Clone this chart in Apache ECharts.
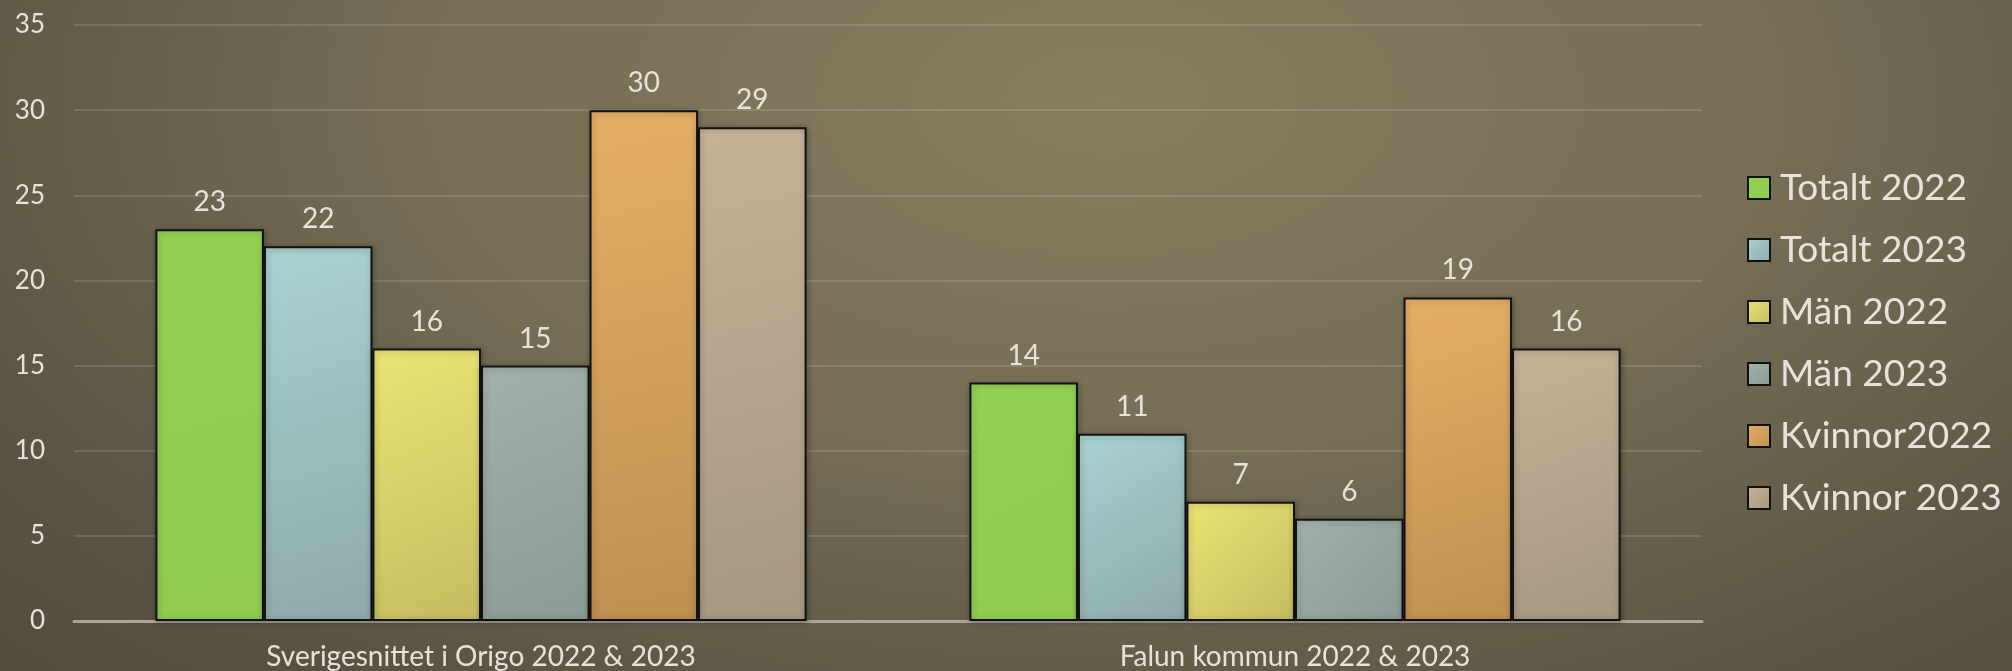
<!DOCTYPE html>
<html>
<head>
<meta charset="utf-8">
<script src="https://cdn.jsdelivr.net/npm/echarts@6/dist/echarts.min.js"></script>
<style>
  html, body { margin: 0; padding: 0; }
  body {
    width: 2012px; height: 671px; overflow: hidden;
    background: radial-gradient(ellipse 75% 120% at 55% 15%, #877e60 0%, #756d54 45%, #5a5343 85%, #544d3e 100%);
  }
  #chart { width: 2012px; height: 671px; }
</style>
</head>
<body>
<div id="chart"></div>
<script>
// kategorier och värden
const categories = ['Sverigesnittet i Origo 2022 & 2023', 'Falun kommun 2022 & 2023'];
const seriesNames = ['Totalt 2022', 'Totalt 2023', 'Män 2022', 'Män 2023', 'Kvinnor2022', 'Kvinnor 2023'];
const totalt2022 = [23, 14];
const totalt2023 = [22, 11];
const man2022 = [16, 7];
const man2023 = [15, 6];
const kvinnor2022 = [30, 19];
const kvinnor2023 = [29, 16];
const yTicks = { min: 0, max: 35, interval: 5 };

const values = [totalt2022, totalt2023, man2022, man2023, kvinnor2022, kvinnor2023];

// ljus/mörk färg per serie, ger den lätta toningen i staplarna
const palette = [
    ['#93d153', '#8fcc4f'],
    ['#a8d2d2', '#8eaaa9'],
    ['#ece473', '#c4bc60'],
    ['#a2b2aa', '#8a9a94'],
    ['#e5b066', '#bd8f50'],
    ['#c8b298', '#a69680']
];

const textColor = '#e6e3dc';
const fontFamily = 'Lato, "Noto Sans", sans-serif';

const barFill = (pair) => new echarts.graphic.LinearGradient(0, 0, 1, 1, [
    {offset: 0, color: pair[0]},
    {offset: 1, color: pair[1]}
]);

const chart = echarts.init(document.getElementById('chart'), null, {renderer: 'canvas'});

const series = seriesNames.map((name, i) => ({
    name: name,
    type: 'bar',
    data: values[i],
    barGap: '0%',
    barCategoryGap: '20%',
    itemStyle: {
        color: barFill(palette[i]),
        borderColor: '#111',
        borderWidth: 2,
        shadowColor: 'rgba(0,0,0,0.3)',
        shadowBlur: 6,
        shadowOffsetX: 1,
        shadowOffsetY: 1
    },
    label: {
        show: true,
        position: 'top',
        distance: 13,
        color: textColor,
        fontSize: 28,
        fontFamily: fontFamily
    }
}));

chart.setOption({
    backgroundColor: 'transparent',
    animation: false,
    grid: {left: 74, right: 310, top: 25, bottom: 50, containLabel: false},
    legend: {
        orient: 'vertical',
        left: 1747,
        top: 168,
        padding: 0,
        icon: 'rect',
        itemWidth: 22,
        itemHeight: 22,
        itemGap: 22,
        data: seriesNames,
        textStyle: {
            color: textColor,
            fontSize: 37,
            lineHeight: 40,
            fontFamily: fontFamily,
            padding: [0, 0, 0, 5]
        }
    },
    xAxis: {
        type: 'category',
        data: categories,
        axisLine: {lineStyle: {color: '#aaa595', width: 3}},
        axisTick: {show: false},
        axisLabel: {
            color: textColor,
            fontSize: 28,
            fontFamily: fontFamily,
            margin: 22
        }
    },
    yAxis: {
        type: 'value',
        min: yTicks.min,
        max: yTicks.max,
        interval: yTicks.interval,
        axisLine: {show: false},
        axisTick: {show: false},
        splitLine: {lineStyle: {color: 'rgba(255,255,255,0.13)', width: 2}},
        axisLabel: {
            color: textColor,
            fontSize: 26,
            fontFamily: fontFamily,
            margin: 29
        }
    },
    series: series
});
</script>
</body>
</html>
